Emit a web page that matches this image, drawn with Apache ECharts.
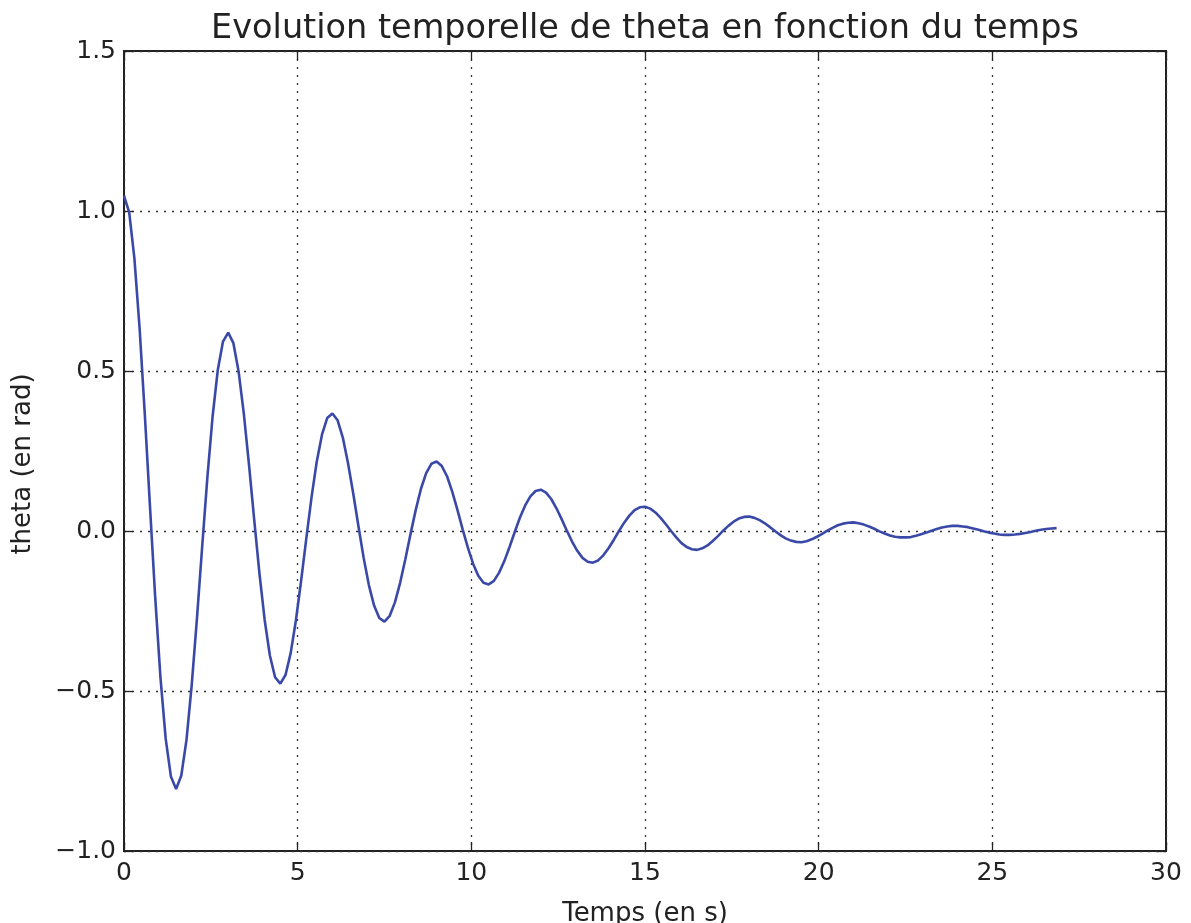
<!DOCTYPE html>
<html>
<head>
<meta charset="utf-8">
<script src="https://cdn.jsdelivr.net/npm/echarts@6/dist/echarts.min.js"></script>
<style>
  html, body { margin: 0; padding: 0; background: #fff; }
  #chart { width: 1191px; height: 923px; }
</style>
</head>
<body>
<div id="chart"></div>
<script>
// time samples (s)
var temps = [
    0, 0.15, 0.3, 0.45, 0.6, 0.75, 0.9, 1.05, 1.2, 1.35, 1.5, 1.65, 1.8, 1.95, 2.1, 2.25, 2.4, 2.55, 2.7, 2.85,
    3, 3.15, 3.3, 3.45, 3.6, 3.75, 3.9, 4.05, 4.2, 4.35, 4.5, 4.65, 4.8, 4.95, 5.1, 5.25, 5.4, 5.55, 5.7, 5.85,
    6, 6.15, 6.3, 6.45, 6.6, 6.75, 6.9, 7.05, 7.2, 7.35, 7.5, 7.65, 7.8, 7.95, 8.1, 8.25, 8.4, 8.55, 8.7, 8.85,
    9, 9.15, 9.3, 9.45, 9.6, 9.75, 9.9, 10.05, 10.2, 10.35, 10.5, 10.65, 10.8, 10.95, 11.1, 11.25, 11.4, 11.55, 11.7, 11.85,
    12, 12.15, 12.3, 12.45, 12.6, 12.75, 12.9, 13.05, 13.2, 13.35, 13.5, 13.65, 13.8, 13.95, 14.1, 14.25, 14.4, 14.55, 14.7, 14.85,
    15, 15.15, 15.3, 15.45, 15.6, 15.75, 15.9, 16.05, 16.2, 16.35, 16.5, 16.65, 16.8, 16.95, 17.1, 17.25, 17.4, 17.55, 17.7, 17.85,
    18, 18.15, 18.3, 18.45, 18.6, 18.75, 18.9, 19.05, 19.2, 19.35, 19.5, 19.65, 19.8, 19.95, 20.1, 20.25, 20.4, 20.55, 20.7, 20.85,
    21, 21.15, 21.3, 21.45, 21.6, 21.75, 21.9, 22.05, 22.2, 22.35, 22.5, 22.65, 22.8, 22.95, 23.1, 23.25, 23.4, 23.55, 23.7, 23.85,
    24, 24.15, 24.3, 24.45, 24.6, 24.75, 24.9, 25.05, 25.2, 25.35, 25.5, 25.65, 25.8, 25.95, 26.1, 26.25, 26.4, 26.55, 26.7, 26.85
];

// theta (rad)
var theta = [
    1.047, 0.996, 0.851, 0.632, 0.363, 0.073, -0.210, -0.458, -0.649, -0.767, -0.806, -0.764, -0.652, -0.481, -0.274, -0.050, 0.167, 0.357, 0.503, 0.592,
    0.620, 0.587, 0.498, 0.367, 0.206, 0.034, -0.133, -0.278, -0.389, -0.457, -0.477, -0.450, -0.381, -0.279, -0.155, -0.022, 0.106, 0.217, 0.301, 0.353,
    0.367, 0.346, 0.292, 0.212, 0.117, 0.015, -0.084, -0.169, -0.233, -0.272, -0.283, -0.265, -0.223, -0.162, -0.088, -0.009, 0.066, 0.132, 0.181, 0.210,
    0.217, 0.203, 0.171, 0.123, 0.066, 0.005, -0.052, -0.102, -0.140, -0.162, -0.167, -0.156, -0.130, -0.094, -0.050, -0.003, 0.042, 0.080, 0.108, 0.125,
    0.129, 0.120, 0.100, 0.071, 0.037, 0.001, -0.033, -0.062, -0.084, -0.096, -0.099, -0.092, -0.076, -0.054, -0.028, 0.000, 0.026, 0.048, 0.065, 0.074,
    0.076, 0.070, 0.058, 0.041, 0.021, 0.000, -0.020, -0.038, -0.050, -0.057, -0.059, -0.054, -0.045, -0.031, -0.016, 0.001, 0.016, 0.029, 0.039, 0.044,
    0.045, 0.041, 0.034, 0.024, 0.012, -0.001, -0.013, -0.023, -0.030, -0.034, -0.035, -0.032, -0.026, -0.018, -0.009, 0.001, 0.010, 0.018, 0.023, 0.026,
    0.027, 0.024, 0.020, 0.014, 0.007, -0.001, -0.008, -0.014, -0.018, -0.020, -0.020, -0.019, -0.015, -0.010, -0.005, 0.001, 0.006, 0.011, 0.014, 0.016,
    0.016, 0.014, 0.012, 0.008, 0.004, -0.001, -0.005, -0.008, -0.011, -0.012, -0.012, -0.011, -0.009, -0.006, -0.003, 0.001, 0.004, 0.006, 0.008, 0.009
];

var titre = 'Evolution temporelle de theta en fonction du temps';
var nomX = 'Temps (en s)';
var nomY = 'theta (en rad)';

var points = [];
for (var i = 0; i < temps.length; i++) {
    points.push([temps[i], theta[i]]);
}

var police = 'DejaVu Sans';
var gridLine = { show: true, lineStyle: { color: '#333', type: [2, 6], width: 1.3 } };
var ticksIn = { show: true, inside: true, length: 9, lineStyle: { color: '#222', width: 1.3 } };
var noLine = { show: false, onZero: false };

function moins(v) {
    return v.toFixed(1).replace('-', '\u2212');
}

var myChart = echarts.init(document.getElementById('chart'));

var option = {
    animation: false,
    title: {
        text: titre,
        left: 645,
        top: 12,
        textAlign: 'center',
        padding: 0,
        textStyle: { fontFamily: police, fontSize: 33.5, fontWeight: 'normal', color: '#222' }
    },
    grid: {
        left: 124, top: 51, right: 25, bottom: 72,
        outerBoundsMode: 'none',
        show: true, borderColor: '#222', borderWidth: 2, backgroundColor: '#fff'
    },
    xAxis: [
        {
            type: 'value', min: 0, max: 30, interval: 5,
            name: nomX, nameLocation: 'middle', nameGap: 50,
            nameTextStyle: { fontFamily: police, fontSize: 26, color: '#222' },
            axisLine: noLine,
            axisTick: ticksIn,
            axisLabel: { fontFamily: police, fontSize: 25, color: '#222', margin: 10 },
            splitLine: gridLine
        },
        {
            type: 'value', min: 0, max: 30, interval: 5, position: 'top',
            axisLine: noLine, axisTick: ticksIn,
            axisLabel: { show: false }, splitLine: { show: false }
        }
    ],
    yAxis: [
        {
            type: 'value', min: -1, max: 1.5, interval: 0.5,
            name: nomY, nameLocation: 'middle', nameGap: 88,
            nameTextStyle: { fontFamily: police, fontSize: 26, color: '#222', padding: [0, 26, 0, 0] },
            axisLine: noLine,
            axisTick: ticksIn,
            axisLabel: { fontFamily: police, fontSize: 25, color: '#222', margin: 8, formatter: moins },
            splitLine: gridLine
        },
        {
            type: 'value', min: -1, max: 1.5, interval: 0.5, position: 'right',
            axisLine: noLine, axisTick: ticksIn,
            axisLabel: { show: false }, splitLine: { show: false }
        }
    ],
    series: [
        {
            type: 'line',
            data: points,
            showSymbol: false,
            lineStyle: { color: '#3a49a8', width: 2.6 },
            z: 5
        }
    ]
};

myChart.setOption(option);
</script>
</body>
</html>
